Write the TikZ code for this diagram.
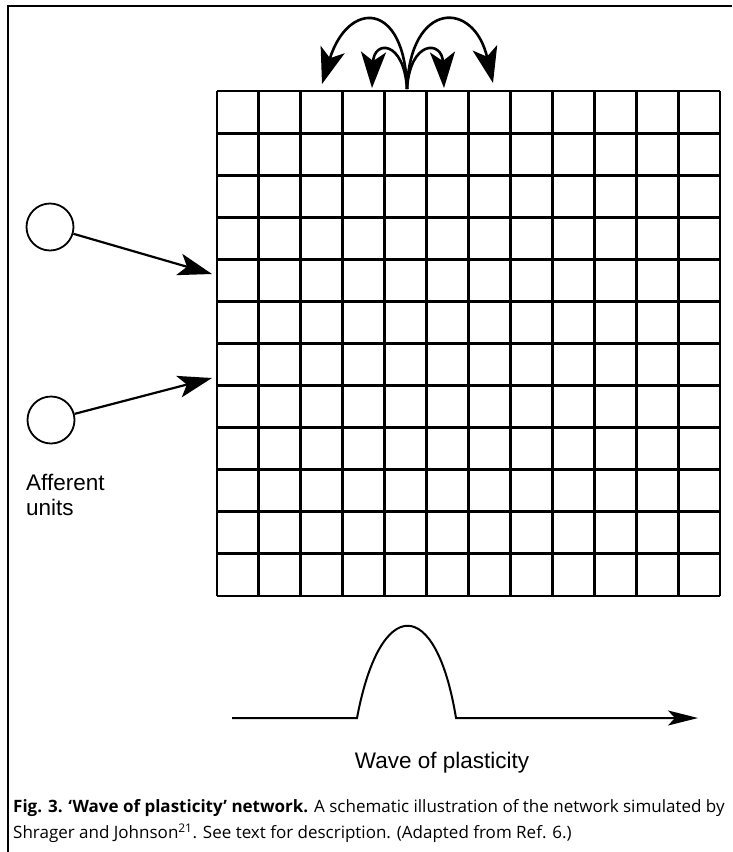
\documentclass[tikz,border=0pt]{standalone}
\usepackage{fontspec}
\setmainfont{Liberation Sans}
\newfontfamily\capfont{Open Sans}
\usetikzlibrary{arrows.meta}
\begin{document}
\begin{tikzpicture}[x=1pt,y=-1pt,
  gridline/.style={line width=2.9pt},
  unit/.style={circle,draw,line width=1.8pt,minimum size=47pt,inner sep=0pt},
  conn/.style={line width=2.2pt,-{Stealth[length=34pt,width=22pt,inset=8pt]}},
  hop/.style={line width=2.6pt,-{Stealth[length=36pt,width=25pt,inset=9pt]}},
  lbl/.style={font=\fontsize{22.5}{25.5}\selectfont,align=left},
  captext/.style={font=\capfont\fontsize{17}{20}\selectfont,anchor=west,inner sep=0pt}]
\useasboundingbox (0,0) rectangle (732,852);
% frame
\draw[line width=2pt] (732,6) -- (8,6) -- (8,852);
% grid
\node[draw=none,minimum width=503pt,minimum height=505pt,inner sep=0pt,anchor=north west] (grid) at (217,91) {};
\foreach \i in {0,...,12} {
  \draw[gridline] (217+\i*41.917,91) -- (217+\i*41.917,596);
  \draw[gridline] (217,91+\i*42.083) -- (720,91+\i*42.083);
}
% afferent units
\node[unit] (u1) at (50,227) {};
\node[unit] (u2) at (51,420) {};
\coordinate (t1) at (212,274);
\coordinate (t2) at (212,378);
\draw[conn] (u1) -- (t1);
\draw[conn] (u2) -- (t2);
\node[lbl,anchor=north west,inner sep=0pt] (aff) at (26,474) {Afferent\\units};
% lateral arrows
\coordinate (base) at (407,89);
\coordinate (bl) at (322,84);
\coordinate (sl) at (372,88);
\coordinate (sr) at (444,88);
\coordinate (br) at (493,83);
\draw[hop] (base) .. controls (405,0) and (348,0) .. (bl);
\draw[hop] (base) .. controls (404,40) and (374,40) .. (sl);
\draw[hop] (base) .. controls (410,40) and (442,40) .. (sr);
\draw[hop] (base) .. controls (410,0) and (474,0) .. (br);
% wave
\coordinate (w0) at (232,718);
\coordinate (wend) at (698,718);
\draw[line width=2pt,-{Stealth[length=30pt,width=15pt,inset=7pt]}] (w0) -- (357,718) .. controls (380,595) and (436,595) .. (456,718) -- (wend);
\node[lbl,anchor=center] (wave) at (442,763) {Wave of plasticity};
% caption
\node[captext] (c1) at (13,808) {\textbf{Fig. 3. ‘Wave of plasticity’ network.} A schematic illustration of the network simulated by};
\node[captext] (c2) at (13,833) {Shrager and Johnson\textsuperscript{21}. See text for description. (Adapted from Ref. 6.)};
\end{tikzpicture}
\end{document}
